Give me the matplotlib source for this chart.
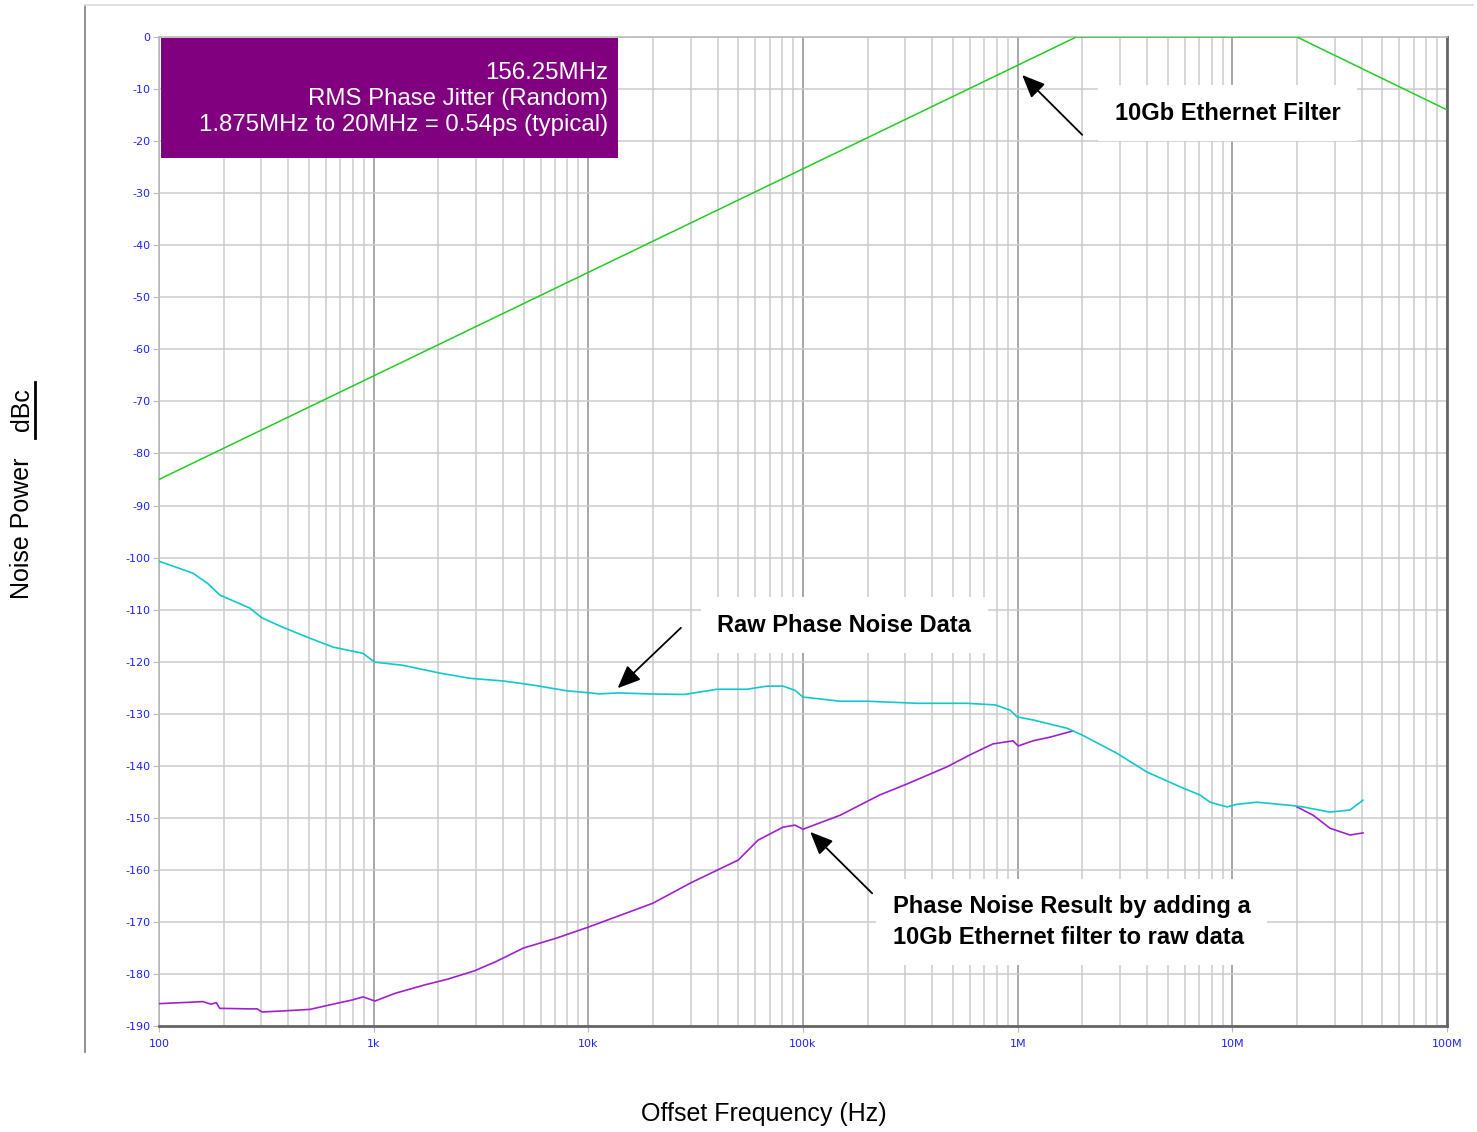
import numpy as np
import matplotlib
matplotlib.use('Agg')
import matplotlib.pyplot as plt
from matplotlib.lines import Line2D
from matplotlib.patches import Rectangle
from matplotlib.ticker import FixedLocator, LogLocator, NullFormatter

# ---- data ----
# 10Gb Ethernet filter (breakpoints)
filt_f = [100, 1.875e6, 2e7, 1e8]
filt_db = [-85, 0, 0, -14]

# raw phase noise data
raw_f = [100, 144, 169, 192, 265, 302, 378, 505, 647, 892, 961, 1014, 1371,
         2037, 2812, 4000, 5522, 7950, 10.2e3, 11.3e3, 13.6e3, 19.4e3,
         28e3, 39.8e3, 54.8e3, 68e3, 80.7e3, 91.8e3, 100e3, 149e3, 199e3,
         340e3, 580e3, 784e3, 921e3, 993e3, 1.18e6, 1.7e6, 2.0e6, 2.9e6,
         4.0e6, 5.9e6, 7.06e6, 7.87e6, 9.44e6, 10.5e6, 13e6, 18.6e6, 21.3e6,
         28.5e6, 35.3e6, 40.6e6]
raw_db = [-100.7, -103.0, -105.0, -107.2, -109.7, -111.6, -113.4, -115.5,
          -117.2, -118.4, -119.4, -120.1, -120.7, -122.2, -123.2, -123.7,
          -124.5, -125.6, -126.0, -126.2, -126.0, -126.2, -126.3, -125.3,
          -125.3, -124.7, -124.7, -125.5, -126.8, -127.6, -127.6, -128.0,
          -128.0, -128.3, -129.3, -130.6, -131.2, -132.8, -134.1, -137.6,
          -141.2, -144.3, -145.6, -147.0, -147.9, -147.4, -147.0, -147.6,
          -147.9, -148.9, -148.5, -146.6]

# phase noise result (raw + filter), visible part below 1.875MHz
res_f = [100, 144, 160, 175, 185, 192, 265, 287, 302, 378, 505, 647, 793,
         893, 1014, 1262, 1729, 2210, 2946, 3720, 5000, 7000, 10e3, 20e3,
         30e3, 50e3, 61.7e3, 80.7e3, 91.8e3, 100e3, 149e3, 228e3, 305e3,
         469e3, 600e3, 767e3, 951e3, 1.005e6, 1.18e6, 1.415e6, 1.81e6]
res_db = [-185.7, -185.4, -185.3, -185.8, -185.5, -186.6, -186.7, -186.7,
          -187.3, -187.1, -186.8, -185.8, -185.0, -184.4, -185.2, -183.7,
          -182.1, -181.0, -179.4, -177.6, -175.0, -173.2, -171.0, -166.4,
          -162.5, -158.1, -154.3, -151.8, -151.4, -152.2, -149.5, -145.6,
          -143.5, -140.2, -137.9, -135.8, -135.2, -136.2, -135.2, -134.5,
          -133.3]
# part above 20MHz
res2_f = [20e6, 23.8e6, 28.5e6, 35.3e6, 40.6e6]
res2_db = [-147.9, -149.5, -152.0, -153.3, -152.9]

x_ticks = [1e2, 1e3, 1e4, 1e5, 1e6, 1e7, 1e8]
x_labels = ['100', '1k', '10k', '100k', '1M', '10M', '100M']
y_ticks = list(range(0, -200, -10))

# ---- figure ----
fig = plt.figure(figsize=(14.77, 11.32), dpi=100)
ax = fig.add_axes([0.1076, 0.0936, 0.8721, 0.8737])

ax.plot(filt_f, filt_db, color='#22cc22', lw=1.1, zorder=3)
ax.plot(res_f, res_db, color='#a020d0', lw=1.2, zorder=3)
ax.plot(res2_f, res2_db, color='#a020d0', lw=1.2, zorder=3)
ax.plot(raw_f, raw_db, color='#10c8cc', lw=1.2, zorder=4)

ax.set_xscale('log')
ax.set_xlim(100, 1e8)
ax.set_ylim(-190, 0)

ax.xaxis.set_major_locator(FixedLocator(x_ticks))
ax.set_xticklabels(x_labels)
ax.xaxis.set_minor_locator(LogLocator(base=10, subs=np.arange(2, 10)))
ax.xaxis.set_minor_formatter(NullFormatter())
ax.set_yticks(y_ticks)
ax.set_yticklabels([str(v) for v in y_ticks])

ax.grid(True, which='major', axis='x', color='#a0a0a0', lw=1.3)
ax.grid(True, which='minor', axis='x', color='#cccccc', lw=1.1)
ax.grid(True, which='major', axis='y', color='#cccccc', lw=1.1)
ax.tick_params(axis='both', which='major', colors='#bbbbbb', labelcolor='#2020ff',
               labelsize=8, length=4, pad=2)
ax.tick_params(axis='x', which='major', pad=5)
ax.tick_params(axis='x', which='minor', length=0)

for s in ['left', 'top']:
    ax.spines[s].set_color('#bbbbbb')
    ax.spines[s].set_linewidth(1.2)
for s in ['right', 'bottom']:
    ax.spines[s].set_color('#666666')
    ax.spines[s].set_linewidth(2)

# purple info box
ax.add_patch(Rectangle((0.0016, 0.8777), 0.3548, 0.1213, transform=ax.transAxes,
                       facecolor='#800080', edgecolor='none', zorder=5))
ax.text(0.3486, 0.9745, '156.25MHz\nRMS Phase Jitter (Random)\n1.875MHz to 20MHz = 0.54ps (typical)',
        transform=ax.transAxes, ha='right', va='top', color='white', fontsize=17.3,
        family=['Liberation Sans', 'DejaVu Sans'], linespacing=1.22, zorder=6)

# annotations
bold = dict(fontsize=17, fontweight='bold', family=['Liberation Sans', 'DejaVu Sans'],
            color='black', zorder=7)
box = dict(boxstyle='square,pad=0.7', fc='white', ec='none')
arr = dict(arrowstyle='-|>,head_length=1.4,head_width=0.6', color='black', lw=1.3,
           shrinkA=0, shrinkB=0)

ax.annotate('', xy=(1.05e6, -7.3), xytext=(2.0e6, -18.8), arrowprops=arr, zorder=7)
ax.text(2.84e6, -14.6, '10Gb Ethernet Filter', ha='left', va='center', bbox=box, **bold)

ax.annotate('', xy=(1.37e4, -125.1), xytext=(2.7e4, -113.5), arrowprops=arr, zorder=7)
ax.text(3.98e4, -113.0, 'Raw Phase Noise Data', ha='left', va='center', bbox=box, **bold)

ax.annotate('', xy=(1.08e5, -152.7), xytext=(2.1e5, -164.5), arrowprops=arr, zorder=7)
ax.text(2.62e5, -170.0, 'Phase Noise Result by adding a\n10Gb Ethernet filter to raw data',
        ha='left', va='center', bbox=box, linespacing=1.4, **bold)

# axis titles
fig.text(764 / 1477, 1 - 1114 / 1132, 'Offset Frequency (Hz)', ha='center', va='center',
         fontsize=18, family=['Liberation Sans Narrow', 'Liberation Sans', 'DejaVu Sans'])
fig.text(22 / 1477, 1 - 528 / 1132, 'Noise Power', ha='center', va='center', rotation=90,
         fontsize=18, family=['Liberation Sans', 'DejaVu Sans'])
fig.text(22 / 1477, 1 - 410 / 1132, 'dBc', ha='center', va='center', rotation=90,
         fontsize=18, family=['Liberation Sans', 'DejaVu Sans'])
fig.add_artist(Line2D([35 / 1477, 35 / 1477], [1 - 438 / 1132, 1 - 382 / 1132],
                      color='black', lw=2))

# outer frame
fig.add_artist(Line2D([85 / 1477, 85 / 1477], [1 - 1052 / 1132, 1 - 5 / 1132],
                      color='#888888', lw=1.3))
fig.add_artist(Line2D([85 / 1477, 1473 / 1477], [1 - 5 / 1132, 1 - 5 / 1132],
                      color='#dddddd', lw=1.3))

fig.savefig('out.png', dpi=100)
